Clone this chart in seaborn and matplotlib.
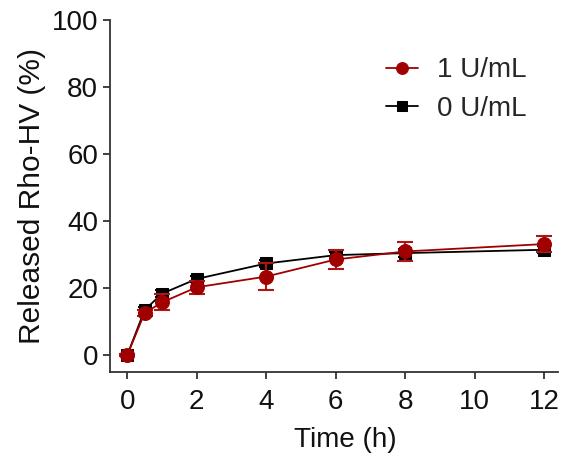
import matplotlib
matplotlib.use("Agg")
import matplotlib.pyplot as plt
import seaborn as sns
import pandas as pd

time_h = [0, 0.5, 1, 2, 4, 6, 8, 12]
rel_1u = [0.0, 12.6, 15.8, 20.3, 23.5, 28.6, 31.0, 33.2]
err_1u = [0.3, 1.0, 2.4, 2.0, 4.0, 2.9, 2.8, 2.5]
rel_0u = [0.0, 13.5, 18.4, 22.8, 27.4, 29.9, 30.5, 31.5]
err_0u = [0.3, 0.8, 1.0, 1.0, 1.0, 0.8, 1.2, 1.0]
labels = ["1 U/mL", "0 U/mL"]
colors = ["#A00000", "#000000"]

sns.set_theme(style="ticks")
plt.rcParams['font.family'] = ['Liberation Sans', 'DejaVu Sans']

fig = plt.figure(figsize=(5.72, 4.61), dpi=100)
ax = fig.add_axes([0.192, 0.193, 0.784, 0.763])

df = pd.concat([
    pd.DataFrame({"Time": time_h, "Released": rel_0u, "Group": labels[1]}),
    pd.DataFrame({"Time": time_h, "Released": rel_1u, "Group": labels[0]}),
])

# black first, red on top
ax.errorbar(time_h, rel_0u, yerr=err_0u, fmt="none", ecolor=colors[1],
            elinewidth=1.5, capsize=5, capthick=1.5, zorder=2)
sns.lineplot(data=df[df.Group == labels[1]], x="Time", y="Released", ax=ax,
             color=colors[1], marker="s", markersize=9, markeredgecolor=colors[1],
             linewidth=1.3, label=labels[1], zorder=3)
ax.errorbar(time_h, rel_1u, yerr=err_1u, fmt="none", ecolor="#B01515",
            elinewidth=1.5, capsize=6, capthick=1.5, zorder=4)
sns.lineplot(data=df[df.Group == labels[0]], x="Time", y="Released", ax=ax,
             color=colors[0], marker="o", markersize=10, markeredgecolor=colors[0],
             linewidth=1.3, label=labels[0], zorder=5)

ax.set_xlim(-0.5, 12.4)
ax.set_ylim(-5, 100)
ax.set_xticks([0, 2, 4, 6, 8, 10, 12])
ax.set_yticks([0, 20, 40, 60, 80, 100])
ax.set_xlabel("Time (h)", fontsize=20, color="#111111")
ax.set_ylabel("Released Rho-HV (%)", fontsize=21.5, color="#111111")
ax.xaxis.set_label_coords(0.525, -0.155)
ax.tick_params(axis="both", labelsize=20, length=5, width=1.3, direction="out",
               colors="#333333", labelcolor="#111111")
ax.tick_params(axis="x", pad=7.5)
for s in ["top", "right"]:
    ax.spines[s].set_visible(False)
for s in ["left", "bottom"]:
    ax.spines[s].set_linewidth(1.3)
    ax.spines[s].set_color("#333333")

h, l = ax.get_legend_handles_labels()
order = [l.index(labels[0]), l.index(labels[1])]
ax.legend([h[i] for i in order], [l[i] for i in order], loc="upper right",
          bbox_to_anchor=(0.964, 0.93), bbox_transform=fig.transFigure,
          frameon=False, fontsize=20, handlelength=1.15, handletextpad=0.68,
          markerscale=0.85, labelspacing=0.45)

fig.savefig("out.png", dpi=100)
